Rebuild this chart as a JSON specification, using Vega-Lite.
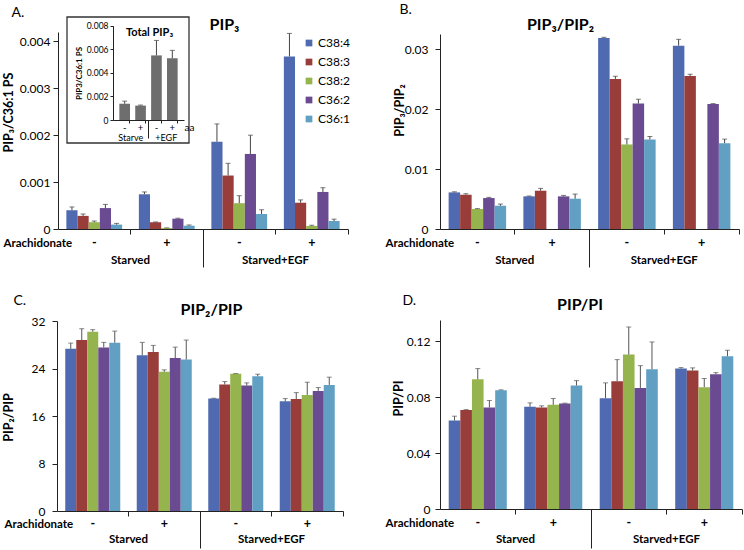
{
"$schema": "https://vega.github.io/schema/vega-lite/v6.json",
"width": 744, "height": 550,
"autosize": {"type": "none"},
"padding": 0,
"datasets": {
"A": [
{"g":"S-","s":"C38:4","v":0.0004,"hi":0.00047},{"g":"S-","s":"C38:3","v":0.00028,"hi":0.00032},{"g":"S-","s":"C38:2","v":0.000145,"hi":0.00017},{"g":"S-","s":"C36:2","v":0.000446,"hi":0.000525},{"g":"S-","s":"C36:1","v":0.000094,"hi":0.00012},
{"g":"S+","s":"C38:4","v":0.00074,"hi":0.00079},{"g":"S+","s":"C38:3","v":0.000144,"hi":0.00015},{"g":"S+","s":"C38:2","v":0.00002,"hi":0.000025},{"g":"S+","s":"C36:2","v":0.00022,"hi":0.00023},{"g":"S+","s":"C36:1","v":0.00007,"hi":0.000086},
{"g":"E-","s":"C38:4","v":0.00186,"hi":0.00224},{"g":"E-","s":"C38:3","v":0.00114,"hi":0.0014},{"g":"E-","s":"C38:2","v":0.00055,"hi":0.00071},{"g":"E-","s":"C36:2","v":0.0016,"hi":0.002},{"g":"E-","s":"C36:1","v":0.00032,"hi":0.00041},
{"g":"E+","s":"C38:4","v":0.00368,"hi":0.00417},{"g":"E+","s":"C38:3","v":0.00056,"hi":0.00062},{"g":"E+","s":"C38:2","v":0.000065,"hi":0.00008},{"g":"E+","s":"C36:2","v":0.00079,"hi":0.00088},{"g":"E+","s":"C36:1","v":0.00017,"hi":0.00021}
],
"B": [
{"g":"S-","s":"C38:4","v":0.0061,"hi":0.0062},{"g":"S-","s":"C38:3","v":0.00571,"hi":0.00588},{"g":"S-","s":"C38:2","v":0.00333,"hi":0.0034},{"g":"S-","s":"C36:2","v":0.00516,"hi":0.00527},{"g":"S-","s":"C36:1","v":0.00388,"hi":0.00416},
{"g":"S+","s":"C38:4","v":0.00544,"hi":0.0055},{"g":"S+","s":"C38:3","v":0.00638,"hi":0.00677},{"g":"S+","s":"C36:2","v":0.00544,"hi":0.0056},{"g":"S+","s":"C36:1","v":0.00505,"hi":0.00582},
{"g":"E-","s":"C38:4","v":0.03184,"hi":0.03195},{"g":"E-","s":"C38:3","v":0.02501,"hi":0.02546},{"g":"E-","s":"C38:2","v":0.01409,"hi":0.01503},{"g":"E-","s":"C36:2","v":0.02091,"hi":0.02163},{"g":"E-","s":"C36:1","v":0.01492,"hi":0.01542},
{"g":"E+","s":"C38:4","v":0.03056,"hi":0.03161},{"g":"E+","s":"C38:3","v":0.02551,"hi":0.02579},{"g":"E+","s":"C36:2","v":0.02085,"hi":0.0209},{"g":"E+","s":"C36:1","v":0.01431,"hi":0.01498}
],
"C": [
{"g":"S-","s":"C38:4","v":27.32,"hi":28.28},{"g":"S-","s":"C38:3","v":28.79,"hi":30.7},{"g":"S-","s":"C38:2","v":30.2,"hi":30.54},{"g":"S-","s":"C36:2","v":27.55,"hi":28.4},{"g":"S-","s":"C36:1","v":28.34,"hi":30.3},
{"g":"S+","s":"C38:4","v":26.25,"hi":28.4},{"g":"S+","s":"C38:3","v":26.76,"hi":27.89},{"g":"S+","s":"C38:2","v":23.44,"hi":23.77},{"g":"S+","s":"C36:2","v":25.75,"hi":27.6},{"g":"S+","s":"C36:1","v":25.52,"hi":28.79},
{"g":"E-","s":"C38:4","v":18.93,"hi":18.99},{"g":"E-","s":"C38:3","v":21.3,"hi":21.8},{"g":"E-","s":"C38:2","v":23.1,"hi":23.15},{"g":"E-","s":"C36:2","v":21.13,"hi":21.58},{"g":"E-","s":"C36:1","v":22.7,"hi":23.04},
{"g":"E+","s":"C38:4","v":18.48,"hi":18.93},{"g":"E+","s":"C38:3","v":18.87,"hi":19.94},{"g":"E+","s":"C38:2","v":19.55,"hi":21.69},{"g":"E+","s":"C36:2","v":20.23,"hi":20.79},{"g":"E+","s":"C36:1","v":21.24,"hi":22.54}
],
"D": [
{"g":"S-","s":"C38:4","v":0.0632,"hi":0.0663},{"g":"S-","s":"C38:3","v":0.0708,"hi":0.071},{"g":"S-","s":"C38:2","v":0.0927,"hi":0.1003},{"g":"S-","s":"C36:2","v":0.0725,"hi":0.0775},{"g":"S-","s":"C36:1","v":0.0848,"hi":0.0851},
{"g":"S+","s":"C38:4","v":0.073,"hi":0.0758},{"g":"S+","s":"C38:3","v":0.0725,"hi":0.0737},{"g":"S+","s":"C38:2","v":0.0744,"hi":0.0789},{"g":"S+","s":"C36:2","v":0.0753,"hi":0.0756},{"g":"S+","s":"C36:1","v":0.0882,"hi":0.0917},
{"g":"E-","s":"C38:4","v":0.0791,"hi":0.0901},{"g":"E-","s":"C38:3","v":0.0913,"hi":0.1067},{"g":"E-","s":"C38:2","v":0.1103,"hi":0.13},{"g":"E-","s":"C36:2","v":0.0865,"hi":0.1024},{"g":"E-","s":"C36:1","v":0.0998,"hi":0.1193},
{"g":"E+","s":"C38:4","v":0.1003,"hi":0.101},{"g":"E+","s":"C38:3","v":0.0989,"hi":0.1008},{"g":"E+","s":"C38:2","v":0.087,"hi":0.0932},{"g":"E+","s":"C36:2","v":0.0963,"hi":0.0974},{"g":"E+","s":"C36:1","v":0.1091,"hi":0.1134}
],
"inset": [
{"g":"S-","v":0.00138,"hi":0.0016},{"g":"S+","v":0.00122,"hi":0.00127},{"g":"E-","v":0.00548,"hi":0.00675},{"g":"E+","v":0.00524,"hi":0.00591}
],
"conds": [{"c":"Starved"},{"c":"Starved+EGF"}],
"iconds": [{"c":"Starve"},{"c":"+EGF"}],
"one": [{"k":1}]
},
"resolve": {"scale": {"x":"independent","y":"independent","xOffset":"independent","color":"independent"}},
"layer": [
 {"data": {"name":"A"},
  "encoding": {
   "x": {"field":"g","type":"nominal","sort":null,"scale":{"domain":["S-","S+","E-","E+"],"range":[58,348],"paddingInner":0,"paddingOuter":0},
    "axis":{"orient":"bottom","offset":-321,"title":"Arachidonate","labelExpr":"substring(datum.label,1)","labelAngle":0,"bandPosition":1,"tickSize":5,"labelPadding":2,"labelFontWeight":"bold","labelFontSize":12.5,"titleFontWeight":"bold","titleFontSize":11.5,"titleX":3,"titleY":14,"titleAlign":"left","titleBaseline":"middle"}},
   "xOffset": {"field":"s","type":"nominal","scale":{"domain":["C38:4","C38:3","C38:2","C36:2","C36:1"],"paddingInner":0,"paddingOuter":0.75}}
  },
  "layer": [
   {"mark":{"type":"bar"},
    "encoding":{
     "y":{"field":"v","type":"quantitative","scale":{"domain":[0,0.0042],"range":[229,32],"nice":false},"axis":{"orient":"left","offset":-58,"title":"PIP₃/C36:1 PS","values":[0,0.001,0.002,0.003,0.004],"format":".3~f","labelPadding":3,"titleX":-49.5,"titleY":112,"titleBaseline":"middle","titleFontWeight":"bold"}},
     "color":{"field":"s","type":"nominal","scale":{"domain":["C38:4","C38:3","C38:2","C36:2","C36:1"],"range":["#4F6AB0","#993D3B","#96B44E","#6A4B92","#61A0C3"]},
      "legend":{"title":null,"orient":"none","legendX":303,"legendY":37,"symbolType":"square","symbolSize":45,"symbolStrokeWidth":0,"labelFontSize":12,"rowPadding":7,"labelOffset":3}}}},
   {"mark":{"type":"rule","color":"#444"},"encoding":{"y":{"field":"v","type":"quantitative"},"y2":{"field":"hi"}}},
   {"mark":{"type":"tick","color":"#444","thickness":1,"size":5,"orient":"horizontal"},"encoding":{"y":{"field":"hi","type":"quantitative"}}}
  ]},
 {"data": {"name":"conds"},
  "mark": {"type":"point","opacity":0},
  "encoding": {
   "x": {"field":"c","type":"nominal","sort":null,"scale":{"type":"band","domain":["Starved","Starved+EGF"],"range":[58,348],"paddingInner":0,"paddingOuter":0},
    "axis":{"title":null,"orient":"bottom","offset":-321,"domain":false,"bandPosition":1,"tickSize":38,"tickOpacity":{"condition":{"test":"datum.value == 'Starved+EGF'","value":0},"value":1},"labelPadding":-13,"labelFontWeight":"bold","labelFontSize":11.5,"labelAngle":0}},
   "y": {"datum":0,"type":"quantitative","scale":{"domain":[0,1],"range":[229,32]},"axis":null}}},
 {"data": {"name":"one"},
  "mark": {"type":"point","opacity":0},
  "encoding": {
   "x":{"datum":0.5,"type":"quantitative","scale":{"domain":[0,1],"range":[58,348]},"axis":{"orient":"top","domain":false,"ticks":false,"labels":false,"title":"PIP₃","titleX":224,"titleY":29,"titleAlign":"center","titleBaseline":"alphabetic","titleFontSize":16,"titleFontWeight":"bold"}},
   "y":{"datum":0.5,"type":"quantitative","scale":{"domain":[0,1],"range":[229,32]},"axis":{"orient":"left","domain":false,"ticks":false,"labels":false,"title":"A.","titleAngle":0,"titleX":11,"titleY":16.5,"titleAlign":"left","titleBaseline":"alphabetic","titleFontSize":14,"titleFontWeight":"normal"}}}},
 {"data": {"name":"one"},
  "mark": {"type":"rect","fill":"white","stroke":"#333","strokeWidth":1.3},
  "encoding": {
   "x":{"datum":0,"type":"quantitative","scale":{"domain":[0,1],"range":[67,189]},
    "axis":{"orient":"top","zindex":2,"domain":false,"ticks":false,"labels":false,"title":"Total PIP₃","titleX":149,"titleY":35,"titleAlign":"center","titleBaseline":"alphabetic","titleFontSize":11,"titleFontWeight":"bold"}},
   "x2":{"datum":1},
   "y":{"datum":0,"type":"quantitative","scale":{"domain":[0,1],"range":[143,17]},"axis":null},
   "y2":{"datum":1}}},
 {"data": {"name":"inset"},
  "encoding": {
   "x": {"field":"g","type":"nominal","sort":null,"scale":{"domain":["S-","S+","E-","E+"],"range":[113,184],"paddingInner":0.33,"paddingOuter":0.4},
    "axis":{"orient":"bottom","zindex":2,"offset":-430,"labelExpr":"substring(datum.label,1)","labelAngle":0,"tickSize":3,"bandPosition":1,"labelFontSize":9.5,"labelPadding":-1,"title":"aa","titleX":184,"titleY":7,"titleAlign":"left","titleBaseline":"middle","titleFontWeight":"normal","titleFontSize":10}}
  },
  "layer": [
   {"mark":{"type":"bar","color":"#6E6E6E"},
    "encoding":{"y":{"field":"v","type":"quantitative","scale":{"domain":[0,0.008],"range":[120,25.7],"nice":false},
     "axis":{"orient":"left","zindex":2,"offset":-113,"values":[0,0.002,0.004,0.006,0.008],"format":".3~f","tickSize":3,"labelPadding":2,"labelFontSize":8.5,"title":"PIP3/C36:1 PS","titleFontSize":8,"titleFontWeight":"bold","titleX":-34,"titleY":73,"titleBaseline":"middle"}}}},
   {"mark":{"type":"rule","color":"#444"},"encoding":{"y":{"field":"v","type":"quantitative"},"y2":{"field":"hi"}}},
   {"mark":{"type":"tick","color":"#444","thickness":1,"size":5,"orient":"horizontal"},"encoding":{"y":{"field":"hi","type":"quantitative"}}}
  ]},
 {"data": {"name":"iconds"},
  "mark": {"type":"point","opacity":0},
  "encoding": {
   "x": {"field":"c","type":"nominal","sort":null,"scale":{"type":"band","domain":["Starve","+EGF"],"range":[113,184],"paddingInner":0,"paddingOuter":0},
    "axis":{"title":null,"orient":"bottom","zindex":2,"offset":-430,"domain":false,"bandPosition":1,"tickSize":18,"tickOpacity":{"condition":{"test":"datum.value == '+EGF'","value":0},"value":1},"labelPadding":-5,"labelFontSize":9,"labelAngle":0}},
   "y": {"datum":0,"type":"quantitative","scale":{"domain":[0,1],"range":[120,25]},"axis":null}}},

 {"data": {"name":"B"},
  "encoding": {
   "x": {"field":"g","type":"nominal","sort":null,"scale":{"domain":["S-","S+","E-","E+"],"range":[440,739],"paddingInner":0,"paddingOuter":0},
    "axis":{"orient":"bottom","offset":-321,"title":"Arachidonate","labelExpr":"substring(datum.label,1)","labelAngle":0,"bandPosition":1,"tickSize":5,"labelPadding":2,"labelFontWeight":"bold","labelFontSize":12.5,"titleFontWeight":"bold","titleFontSize":11.5,"titleX":385,"titleY":14,"titleAlign":"left","titleBaseline":"middle"}},
   "xOffset": {"field":"s","type":"nominal","scale":{"domain":["C38:4","C38:3","C38:2","C36:2","C36:1"],"paddingInner":0,"paddingOuter":0.75}}
  },
  "layer": [
   {"mark":{"type":"bar"},
    "encoding":{
     "y":{"field":"v","type":"quantitative","scale":{"domain":[0,0.0325],"range":[229,34],"nice":false},"axis":{"orient":"left","offset":-440,"title":"PIP₃/PIP₂","values":[0,0.01,0.02,0.03],"format":"~g","labelPadding":7,"titleX":-40.5,"titleY":110,"titleBaseline":"middle","titleFontWeight":"bold"}},
     "color":{"field":"s","type":"nominal","scale":{"domain":["C38:4","C38:3","C38:2","C36:2","C36:1"],"range":["#4F6AB0","#993D3B","#96B44E","#6A4B92","#61A0C3"]},"legend":null}}},
   {"mark":{"type":"rule","color":"#444"},"encoding":{"y":{"field":"v","type":"quantitative"},"y2":{"field":"hi"}}},
   {"mark":{"type":"tick","color":"#444","thickness":1,"size":5,"orient":"horizontal"},"encoding":{"y":{"field":"hi","type":"quantitative"}}}
  ]},
 {"data": {"name":"conds"},
  "mark": {"type":"point","opacity":0},
  "encoding": {
   "x": {"field":"c","type":"nominal","sort":null,"scale":{"type":"band","domain":["Starved","Starved+EGF"],"range":[440,739],"paddingInner":0,"paddingOuter":0},
    "axis":{"title":null,"orient":"bottom","offset":-321,"domain":false,"bandPosition":1,"tickSize":38,"tickOpacity":{"condition":{"test":"datum.value == 'Starved+EGF'","value":0},"value":1},"labelPadding":-13,"labelFontWeight":"bold","labelFontSize":11.5,"labelAngle":0}},
   "y": {"datum":0,"type":"quantitative","scale":{"domain":[0,1],"range":[229,34]},"axis":null}}},
 {"data": {"name":"one"},
  "mark": {"type":"point","opacity":0},
  "encoding": {
   "x":{"datum":0.5,"type":"quantitative","scale":{"domain":[0,1],"range":[440,739]},"axis":{"orient":"top","domain":false,"ticks":false,"labels":false,"title":"PIP₃/PIP₂","titleX":560,"titleY":29.3,"titleAlign":"center","titleBaseline":"alphabetic","titleFontSize":16,"titleFontWeight":"bold"}},
   "y":{"datum":0.5,"type":"quantitative","scale":{"domain":[0,1],"range":[229,34]},"axis":{"orient":"left","domain":false,"ticks":false,"labels":false,"title":"B.","titleAngle":0,"titleX":399,"titleY":13.3,"titleAlign":"left","titleBaseline":"alphabetic","titleFontSize":14,"titleFontWeight":"normal"}}}},

 {"data": {"name":"C"},
  "encoding": {
   "x": {"field":"g","type":"nominal","sort":null,"scale":{"domain":["S-","S+","E-","E+"],"range":[57,343],"paddingInner":0,"paddingOuter":0},
    "axis":{"orient":"bottom","offset":-39,"title":"Arachidonate","labelExpr":"substring(datum.label,1)","labelAngle":0,"bandPosition":1,"tickSize":5,"labelPadding":1,"labelFontWeight":"bold","labelFontSize":12.5,"titleFontWeight":"bold","titleFontSize":11.5,"titleX":4,"titleY":13.5,"titleAlign":"left","titleBaseline":"middle"}},
   "xOffset": {"field":"s","type":"nominal","scale":{"domain":["C38:4","C38:3","C38:2","C36:2","C36:1"],"paddingInner":0,"paddingOuter":0.75}}
  },
  "layer": [
   {"mark":{"type":"bar"},
    "encoding":{
     "y":{"field":"v","type":"quantitative","scale":{"domain":[0,32],"range":[511,321],"nice":false},"axis":{"orient":"left","offset":-57,"title":"PIP₂/PIP","values":[0,8,16,24,32],"format":"d","labelPadding":7,"titleX":-49,"titleY":417,"titleBaseline":"middle","titleFontWeight":"bold"}},
     "color":{"field":"s","type":"nominal","scale":{"domain":["C38:4","C38:3","C38:2","C36:2","C36:1"],"range":["#4F6AB0","#993D3B","#96B44E","#6A4B92","#61A0C3"]},"legend":null}}},
   {"mark":{"type":"rule","color":"#555"},"encoding":{"y":{"field":"v","type":"quantitative"},"y2":{"field":"hi"}}},
   {"mark":{"type":"tick","color":"#555","thickness":1,"size":5,"orient":"horizontal"},"encoding":{"y":{"field":"hi","type":"quantitative"}}}
  ]},
 {"data": {"name":"conds"},
  "mark": {"type":"point","opacity":0},
  "encoding": {
   "x": {"field":"c","type":"nominal","sort":null,"scale":{"type":"band","domain":["Starved","Starved+EGF"],"range":[57,343],"paddingInner":0,"paddingOuter":0},
    "axis":{"title":null,"orient":"bottom","offset":-39,"domain":false,"bandPosition":1,"tickSize":37,"tickOpacity":{"condition":{"test":"datum.value == 'Starved+EGF'","value":0},"value":1},"labelPadding":-15,"labelFontWeight":"bold","labelFontSize":11.5,"labelAngle":0}},
   "y": {"datum":0,"type":"quantitative","scale":{"domain":[0,1],"range":[511,321]},"axis":null}}},
 {"data": {"name":"one"},
  "mark": {"type":"point","opacity":0},
  "encoding": {
   "x":{"datum":0.5,"type":"quantitative","scale":{"domain":[0,1],"range":[57,343]},"axis":{"orient":"top","domain":false,"ticks":false,"labels":false,"title":"PIP₂/PIP","titleX":211,"titleY":314,"titleAlign":"center","titleBaseline":"alphabetic","titleFontSize":16,"titleFontWeight":"bold"}},
   "y":{"datum":0.5,"type":"quantitative","scale":{"domain":[0,1],"range":[511,321]},"axis":{"orient":"left","domain":false,"ticks":false,"labels":false,"title":"C.","titleAngle":0,"titleX":13,"titleY":304.3,"titleAlign":"left","titleBaseline":"alphabetic","titleFontSize":14,"titleFontWeight":"normal"}}}},

 {"data": {"name":"D"},
  "encoding": {
   "x": {"field":"g","type":"nominal","sort":null,"scale":{"domain":["S-","S+","E-","E+"],"range":[440,742],"paddingInner":0,"paddingOuter":0},
    "axis":{"orient":"bottom","offset":-41,"title":"Arachidonate","labelExpr":"substring(datum.label,1)","labelAngle":0,"bandPosition":1,"tickSize":5,"labelPadding":2,"labelFontWeight":"bold","labelFontSize":12.5,"titleFontWeight":"bold","titleFontSize":11.5,"titleX":385,"titleY":14,"titleAlign":"left","titleBaseline":"middle"}},
   "xOffset": {"field":"s","type":"nominal","scale":{"domain":["C38:4","C38:3","C38:2","C36:2","C36:1"],"paddingInner":0,"paddingOuter":0.75}}
  },
  "layer": [
   {"mark":{"type":"bar"},
    "encoding":{
     "y":{"field":"v","type":"quantitative","scale":{"domain":[0,0.135],"range":[509,320],"nice":false},"axis":{"orient":"left","offset":-440,"title":"PIP/PI","values":[0,0.04,0.08,0.12],"format":"~g","labelPadding":5,"titleX":-41.3,"titleY":398,"titleBaseline":"middle","titleFontWeight":"bold"}},
     "color":{"field":"s","type":"nominal","scale":{"domain":["C38:4","C38:3","C38:2","C36:2","C36:1"],"range":["#4F6AB0","#993D3B","#96B44E","#6A4B92","#61A0C3"]},"legend":null}}},
   {"mark":{"type":"rule","color":"#555"},"encoding":{"y":{"field":"v","type":"quantitative"},"y2":{"field":"hi"}}},
   {"mark":{"type":"tick","color":"#555","thickness":1,"size":5,"orient":"horizontal"},"encoding":{"y":{"field":"hi","type":"quantitative"}}}
  ]},
 {"data": {"name":"conds"},
  "mark": {"type":"point","opacity":0},
  "encoding": {
   "x": {"field":"c","type":"nominal","sort":null,"scale":{"type":"band","domain":["Starved","Starved+EGF"],"range":[440,742],"paddingInner":0,"paddingOuter":0},
    "axis":{"title":null,"orient":"bottom","offset":-41,"domain":false,"bandPosition":1,"tickSize":39,"tickOpacity":{"condition":{"test":"datum.value == 'Starved+EGF'","value":0},"value":1},"labelPadding":-15,"labelFontWeight":"bold","labelFontSize":11.5,"labelAngle":0}},
   "y": {"datum":0,"type":"quantitative","scale":{"domain":[0,1],"range":[509,320]},"axis":null}}},
 {"data": {"name":"one"},
  "mark": {"type":"point","opacity":0},
  "encoding": {
   "x":{"datum":0.5,"type":"quantitative","scale":{"domain":[0,1],"range":[440,742]},"axis":{"orient":"top","domain":false,"ticks":false,"labels":false,"title":"PIP/PI","titleX":579.5,"titleY":309.7,"titleAlign":"center","titleBaseline":"alphabetic","titleFontSize":16,"titleFontWeight":"bold"}},
   "y":{"datum":0.5,"type":"quantitative","scale":{"domain":[0,1],"range":[509,320]},"axis":{"orient":"left","domain":false,"ticks":false,"labels":false,"title":"D.","titleAngle":0,"titleX":402,"titleY":304.3,"titleAlign":"left","titleBaseline":"alphabetic","titleFontSize":14,"titleFontWeight":"normal"}}}}
],
"config": {
 "font": "Lato",
 "view": {"stroke": null},
 "axis": {"grid": false, "domainColor": "#222", "tickColor": "#222", "labelColor": "#000", "titleColor": "#000", "labelFontSize": 12, "titleFontSize": 12.5, "tickSize": 5, "labelFont": "Lato", "titleFont": "Lato"},
 "legend": {"labelFont": "Lato", "labelColor": "#000"}
}
}
